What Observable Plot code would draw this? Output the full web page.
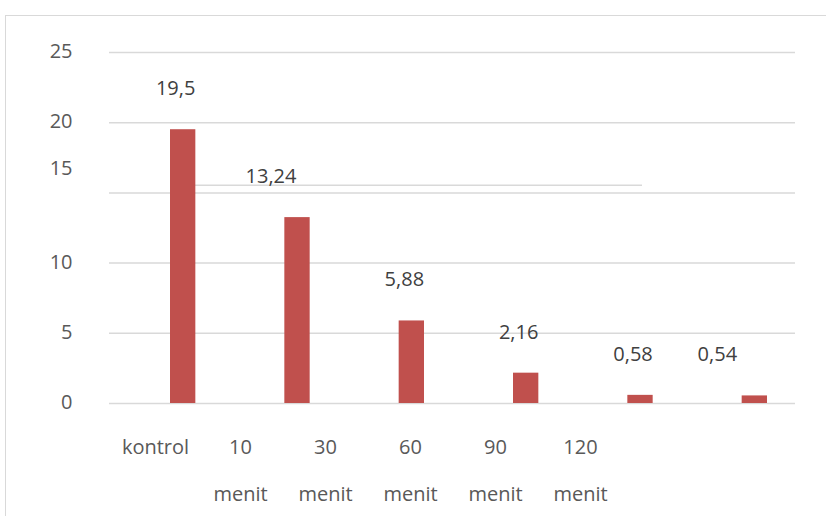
<!DOCTYPE html>
<html>
<head>
<meta charset="utf-8">
<script src="https://cdn.jsdelivr.net/npm/d3@7"></script>
<script src="https://cdn.jsdelivr.net/npm/@observablehq/plot@0.6"></script>
<style>
  html, body { margin: 0; padding: 0; background: #fff; }
  #wrap { position: relative; width: 826px; height: 516px; overflow: hidden; font-family: "Open Sans", sans-serif; }
  #border { position: absolute; left: 5px; top: 15px; width: 840px; height: 520px; border: 1.5px solid #d9d9d9; box-sizing: border-box; }
  #main, #cats { position: absolute; left: 0; }
  #main { top: 0; }
  #cats { top: 410px; }
</style>
</head>
<body>
<div id="wrap">
  <div id="border"></div>
  <div id="main"></div>
  <div id="cats"></div>
</div>
<script>
const categories = ["kontrol", "10 menit", "30 menit", "60 menit", "90 menit", "120 menit"];
const values = [19.5, 13.24, 5.88, 2.16, 0.58, 0.54];
const gridValues = [0, 5, 10, 15, 20, 25];
const yTicks = [0, 5, 10, 20, 25];
const strayTick = [15];
const strayLine = [{y: 15.54, x1: 0.752, x2: 4.662}];

const data = categories.map((c, i) => ({i, category: c, value: values[i], label: String(values[i]).replace(".", ",")}));
const fmt = d => String(d);

const main = Plot.plot({
  width: 826,
  height: 516,
  marginLeft: 109,
  marginRight: 31,
  marginTop: 52,
  marginBottom: 113,
  x: {domain: [0, 6], axis: null},
  y: {domain: [0, 25], axis: null},
  style: {fontFamily: "Open Sans, sans-serif", background: "transparent"},
  marks: [
    Plot.ruleY(gridValues, {stroke: "#d9d9d9", strokeWidth: 1.5}),
    Plot.ruleY(strayLine, {y: "y", x1: "x1", x2: "x2", stroke: "#d9d9d9", strokeWidth: 1.5}),
    Plot.rectY(data, {x: "i", y: "value", interval: 1, insetLeft: 61, insetRight: 28, fill: "#c0504d"}),
    Plot.axisY(yTicks, {anchor: "left", tickSize: 0, tickPadding: 37, fontSize: 20, fill: "#595959", tickFormat: fmt, dy: -1}),
    Plot.axisY(strayTick, {anchor: "left", tickSize: 0, tickPadding: 37, fontSize: 20, fill: "#595959", tickFormat: fmt, dy: -24}),
    Plot.text(data.filter(d => d.i !== 1 && d.i !== 5), {x: d => d.i + 0.5, y: "value", text: "label", dx: 9, dy: -41, fontSize: 20, fill: "#404040"}),
    Plot.text(data.filter(d => d.i === 1), {x: d => d.i + 0.5, y: "value", text: "label", dx: -10, dy: -41, fontSize: 20, fill: "#404040"}),
    Plot.text(data.filter(d => d.i === 5), {x: d => d.i + 0.5, y: "value", text: "label", dx: -21, dy: -41, fontSize: 20, fill: "#404040"})
  ]
});
document.getElementById("main").appendChild(main);

const cats = Plot.plot({
  width: 826,
  height: 106,
  marginLeft: 153,
  marginRight: 245,
  marginTop: 10,
  marginBottom: 0,
  x: {type: "point", domain: categories, padding: 0, axis: null},
  y: {axis: null},
  style: {fontFamily: "Open Sans, sans-serif", background: "transparent"},
  marks: [
    Plot.text(categories, {x: d => d, text: d => d.replace(" ", "\n"), frameAnchor: "top", lineAnchor: "top", lineHeight: 2.35, fontSize: 20, fill: "#595959"})
  ]
});
document.getElementById("cats").appendChild(cats);
</script>
</body>
</html>
